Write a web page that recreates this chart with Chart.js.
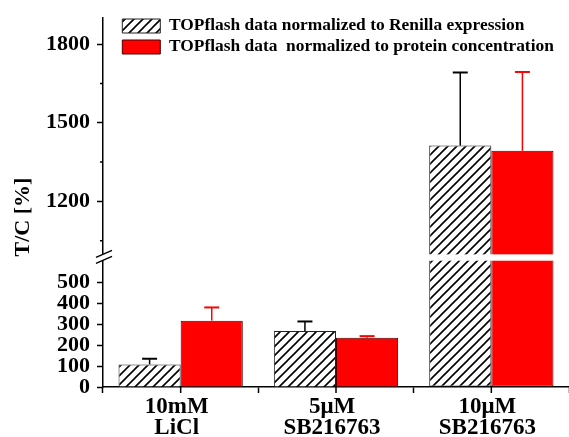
<!DOCTYPE html>
<html lang="en">
<head>
  <meta charset="UTF-8">
  <title>TOPflash T/C</title>
  <style>
    html, body { margin: 0; padding: 0; background: #fff; }
  </style>
</head>
<body>
  <canvas id="chart" width="569" height="437"></canvas>

  <script src="https://cdn.jsdelivr.net/npm/chart.js"></script>
  <script>
    const categories = [['10mM', 'LiCl'], ['5\u03bcM', 'SB216763'], ['10\u03bcM', 'SB216763']];
    const seriesNames = ['TOPflash data normalized to Renilla expression', 'TOPflash data  normalized to protein concentration'];
    const renilla = [108, 267, 1413];
    const renillaErr = [27, 46, 279];
    const protein = [317, 235, 1393];
    const proteinErr = [63, 8, 301];
    const lowerTicks = [0, 100, 200, 300, 400, 500];
    const upperTicks = [1200, 1500, 1800];
    const upperMinorTicks = [1050, 1350, 1650];
    const lowerRange = [0, 605];
    const upperRange = [975, 1900];

    const FONT = 'Liberation Serif';

    function makeHatch() {
      const c = document.createElement('canvas');
      c.width = 9; c.height = 9;
      const g = c.getContext('2d');
      g.fillStyle = '#fff';
      g.fillRect(0, 0, 9, 9);
      g.strokeStyle = '#000';
      g.lineWidth = 1.6;
      g.beginPath();
      g.moveTo(-1, 10); g.lineTo(10, -1);
      g.moveTo(-1, 1); g.lineTo(1, -1);
      g.moveTo(8, 10); g.lineTo(10, 8);
      g.stroke();
      return g.createPattern(c, 'repeat');
    }
    const hatch = makeHatch();

    // bars above the lower segment are cut at its top and continued on the upper one
    const lowerPart = vals => vals.map(v => Math.min(v, lowerRange[1]));
    const upperPart = vals => vals.map(v => v > upperRange[0] ? [upperRange[0], v] : null);
    const skipFor = vals => ctx => vals[ctx.dataIndex] > lowerRange[1] ? 'top' : 'start';

    const common = { borderWidth: 1, categoryPercentage: 0.8, barPercentage: 1.0 };

    const decorations = {
      id: 'decorations',
      afterLayout(chart) {
        chart.legend.left = chart.chartArea.left + 15.7;
        chart.legend.top = 13.7;
      },
      afterDatasetsDraw(chart) {
        const ctx = chart.ctx;
        const a = chart.chartArea;
        const yLow = chart.scales.y, yTop = chart.scales.yTop;

        // error bars (upper side only)
        [[renilla, renillaErr, '#000'], [protein, proteinErr, '#ff0000']].forEach(([vals, errs, color], si) => {
          const meta = chart.getDatasetMeta(si);
          vals.forEach((v, i) => {
            const scale = v > lowerRange[1] ? yTop : yLow;
            const x = meta.data[i].x;
            const y0 = scale.getPixelForValue(v);
            const y1 = scale.getPixelForValue(v + errs[i]);
            ctx.save();
            ctx.strokeStyle = color;
            ctx.lineWidth = 1.5;
            ctx.beginPath();
            ctx.moveTo(x, y0); ctx.lineTo(x, y1);
            ctx.stroke();
            ctx.lineWidth = 2;
            ctx.beginPath();
            ctx.moveTo(x - 7.5, y1); ctx.lineTo(x + 7.5, y1);
            ctx.stroke();
            ctx.restore();
          });
        });

        // axis break gap
        const gapBottom = yTop.bottom;
        ctx.save();
        ctx.fillStyle = '#fff';
        ctx.fillRect(a.left - 2, gapBottom - 6, a.right - a.left + 2, 6);
        ctx.strokeStyle = '#000';
        ctx.lineWidth = 1.5;
        ctx.beginPath();
        ctx.moveTo(a.left - 7, gapBottom - 3); ctx.lineTo(a.left + 9, gapBottom - 10);
        ctx.moveTo(a.left - 7, gapBottom + 3); ctx.lineTo(a.left + 9, gapBottom - 4);
        ctx.stroke();
        ctx.restore();
      },
      afterDraw(chart) {
        const ctx = chart.ctx;
        const a = chart.chartArea;
        ctx.save();
        ctx.strokeStyle = '#000';
        ctx.lineWidth = 1.5;
        ctx.beginPath();
        upperMinorTicks.forEach(v => {
          const y = chart.scales.yTop.getPixelForValue(v);
          ctx.moveTo(a.left - 3, y); ctx.lineTo(a.left, y);
        });
        categories.forEach((c, i) => {
          const x = chart.scales.x.getPixelForValue(i);
          ctx.moveTo(x, a.bottom); ctx.lineTo(x, a.bottom + 6);
        });
        ctx.stroke();

        ctx.translate(23, 217);
        ctx.rotate(-Math.PI / 2);
        ctx.fillStyle = '#000';
        ctx.font = 'bold 22px "' + FONT + '"';
        ctx.textAlign = 'center';
        ctx.textBaseline = 'middle';
        ctx.fillText('T/C [%]', 0, 0);
        ctx.restore();
      }
    };

    const yTickFont = { family: FONT, size: 22, weight: 'bold', lineHeight: 1 };
    const plainLabel = v => String(v);

    new Chart(document.getElementById('chart'), {
      type: 'bar',
      data: {
        labels: categories,
        datasets: [
          { label: seriesNames[0], data: lowerPart(renilla), yAxisID: 'y', stack: 'renilla',
            backgroundColor: hatch, borderColor: '#222', borderSkipped: skipFor(renilla), ...common },
          { label: seriesNames[1], data: lowerPart(protein), yAxisID: 'y', stack: 'protein',
            backgroundColor: '#ff0000', borderColor: '#4a0000', borderSkipped: skipFor(protein), ...common },
          { label: seriesNames[0], data: upperPart(renilla), yAxisID: 'yTop', stack: 'renilla',
            backgroundColor: hatch, borderColor: '#222', borderSkipped: 'start', ...common },
          { label: seriesNames[1], data: upperPart(protein), yAxisID: 'yTop', stack: 'protein',
            backgroundColor: '#ff0000', borderColor: '#4a0000', borderSkipped: 'start', ...common }
        ]
      },
      options: {
        responsive: false,
        animation: false,
        layout: { padding: { left: 45, top: 17, right: 0, bottom: 0 } },
        plugins: {
          tooltip: { enabled: false },
          legend: {
            position: 'chartArea',
            align: 'start',
            labels: {
              filter: item => item.datasetIndex < 2,
              color: '#000',
              boxWidth: 38,
              boxHeight: 14,
              padding: 3.6,
              font: { family: FONT, size: 17.4, weight: 'bold' }
            }
          }
        },
        scales: {
          x: {
            type: 'category',
            grid: { drawOnChartArea: false, offset: true, tickLength: 6, tickColor: '#000', tickWidth: 1.5 },
            border: { color: '#000', width: 1.5 },
            ticks: { color: '#000', padding: 3, maxRotation: 0, autoSkip: false, labelOffset: -4,
                     font: { family: FONT, size: 23, weight: 'bold', lineHeight: 0.93 } },
            afterFit: s => { s.height = 50; }
          },
          y: {
            type: 'linear', position: 'left', stack: 'tc', stackWeight: 127, stacked: false,
            min: lowerRange[0], max: lowerRange[1],
            afterBuildTicks: s => { s.ticks = lowerTicks.map(v => ({ value: v })); },
            grid: { drawOnChartArea: false, tickLength: 6, tickColor: '#000', tickWidth: 1.5 },
            border: { color: '#000', width: 1.5 },
            ticks: { color: '#000', padding: 7, autoSkip: false, font: yTickFont, callback: plainLabel },
            afterFit: s => { s.width = 58; }
          },
          yTop: {
            type: 'linear', position: 'left', stack: 'tc', stackWeight: 243, stacked: false,
            min: upperRange[0], max: upperRange[1],
            afterBuildTicks: s => { s.ticks = upperTicks.map(v => ({ value: v })); },
            grid: { drawOnChartArea: false, tickLength: 6, tickColor: '#000', tickWidth: 1.5 },
            border: { color: '#000', width: 1.5 },
            ticks: { color: '#000', padding: 7, autoSkip: false, font: yTickFont, callback: plainLabel },
            afterFit: s => { s.width = 58; }
          }
        }
      },
      plugins: [decorations]
    });
  </script>
</body>
</html>
